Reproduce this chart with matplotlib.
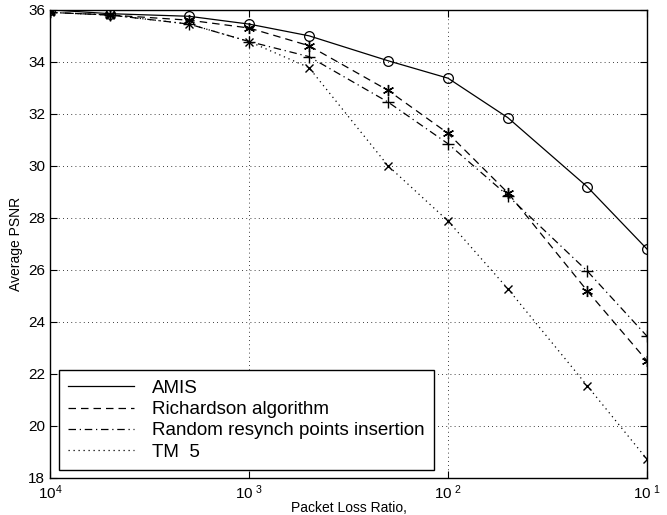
import matplotlib
matplotlib.use("Agg")
import matplotlib.pyplot as plt
from matplotlib.ticker import FixedLocator, NullLocator

plt.rcParams['font.family'] = ['Liberation Sans', 'DejaVu Sans']
plt.rcParams['mathtext.fontset'] = 'custom'
plt.rcParams['mathtext.rm'] = 'Liberation Sans'
plt.rcParams['mathtext.it'] = 'Liberation Sans'

loss = [1e-4, 2e-4, 5e-4, 1e-3, 2e-3, 5e-3, 1e-2, 2e-2, 5e-2, 1e-1]
amis = [36.0, 35.85, 35.75, 35.45, 35.0, 34.04, 33.37, 31.85, 29.2, 26.8]
richardson = [35.9, 35.8, 35.6, 35.3, 34.62, 32.9, 31.25, 28.96, 25.2, 22.5]
random_resync = [35.9, 35.8, 35.45, 34.78, 34.2, 32.45, 30.85, 28.85, 25.96, 23.45]
tm5 = [35.9, 35.8, 35.45, 34.78, 33.78, 30.0, 27.88, 25.27, 21.55, 18.72]

series_labels = ["AMIS", "Richardson algorithm", "Random resynch points insertion", "TM  5"]
xtick_vals = [1e-4, 1e-3, 1e-2, 1e-1]
xtick_labels = ["$10^{4}$", "$10^{\\ 3}$", "$10^{\\ 2}$", "$10^{\\ 1}$"]
yticks = [18, 20, 22, 24, 26, 28, 30, 32, 34, 36]

fig = plt.figure(figsize=(6.67, 5.15), dpi=100)
ax = fig.add_axes([0.075, 0.072, 0.895, 0.909])

lw = 0.9
star = (6, 2, 0)
l1, = ax.plot(loss, amis, '-', color='black', lw=lw, marker='o', ms=7, mfc='none', mew=0.9)
l2, = ax.plot(loss, richardson, color='black', lw=lw, ls=(0, (6, 4)), marker=star, ms=8, mew=1.0)
l3, = ax.plot(loss, random_resync, color='black', lw=lw, ls=(0, (6, 3, 1, 3)), marker='+', ms=8, mew=1.0)
l4, = ax.plot(loss, tm5, color='black', lw=lw, ls=(0, (1, 3)), marker='x', ms=6, mew=1.0)

ax.set_xscale('log')
ax.set_xlim(1e-4, 1e-1)
ax.set_ylim(18, 36)
ax.xaxis.set_major_locator(FixedLocator(xtick_vals))
ax.set_xticklabels(xtick_labels)
ax.xaxis.set_minor_locator(NullLocator())
ax.set_yticks(yticks)
ax.tick_params(direction='in', labelsize=11, length=5, top=True, right=True, width=0.8)
ax.tick_params(axis='x', pad=4)
ax.grid(True, color='black', ls=(0, (1, 4)), lw=0.6)
for s in ax.spines.values():
    s.set_linewidth(1.0)

ax.set_xlabel("Packet Loss Ratio,", fontsize=10, labelpad=-1)
ax.set_ylabel("Average PSNR", fontsize=10, labelpad=4)

proxies = [
    plt.Line2D([], [], color='black', lw=lw, ls='-'),
    plt.Line2D([], [], color='black', lw=lw, ls=(0, (6, 4))),
    plt.Line2D([], [], color='black', lw=lw, ls=(0, (6, 3, 1, 3))),
    plt.Line2D([], [], color='black', lw=lw, ls=(0, (1, 3))),
]
leg = ax.legend(proxies, series_labels, loc='lower left', fontsize=13.5, frameon=True,
                fancybox=False, edgecolor='black', framealpha=1, handlelength=3.5,
                handletextpad=1.0, borderaxespad=0.3, labelspacing=0.22,
                borderpad=0.5, bbox_to_anchor=(0.005, 0.005))
leg.get_frame().set_linewidth(1.0)

fig.savefig("out.png", dpi=100)
